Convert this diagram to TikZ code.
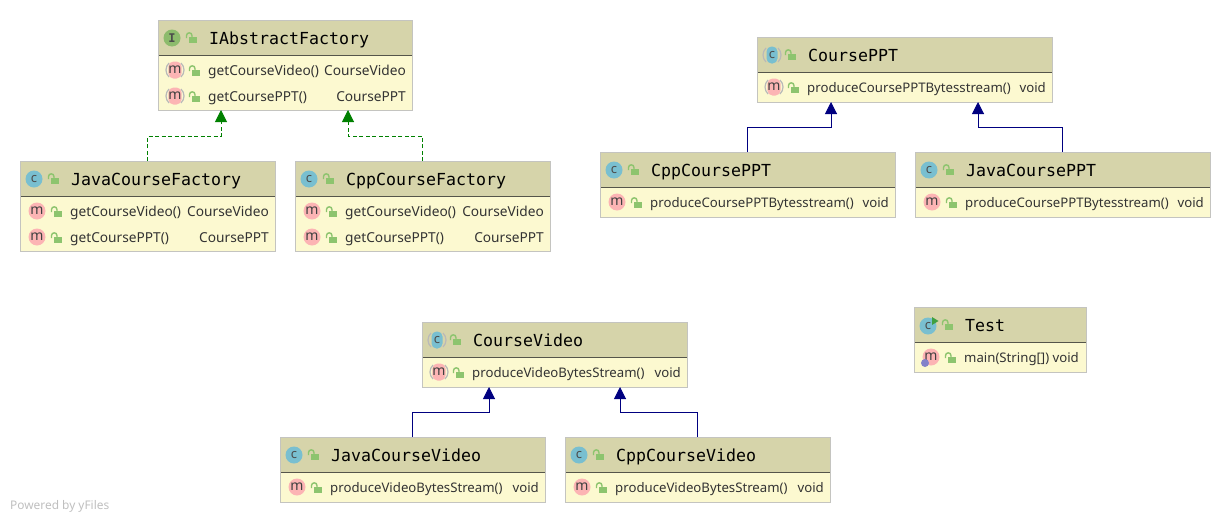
\documentclass[tikz,border=0pt]{standalone}
\usepackage{fontspec}
\setmainfont{Noto Sans}
\setmonofont{DejaVu Sans Mono}
\usetikzlibrary{arrows.meta}
\definecolor{headfill}{HTML}{D6D4AA}
\definecolor{bodyfill}{HTML}{FCF9D0}
\definecolor{edgegray}{HTML}{C4C4C0}
\definecolor{sepline}{HTML}{55554A}
\definecolor{classblue}{HTML}{79BFD0}
\definecolor{methodpink}{HTML}{FCB4B4}
\definecolor{ifacegreen}{HTML}{8CBB6C}
\definecolor{lockgreen}{HTML}{8DC46E}
\definecolor{realizegreen}{HTML}{008000}
\definecolor{extendblue}{HTML}{000080}
\def\rowsize{13.2}
\tikzset{
  x=1pt, y=-1pt,
  classbody/.style={draw=edgegray, line width=1pt, fill=bodyfill, anchor=north west, inner sep=0pt, outer sep=0pt},
  classhead/.style={fill=headfill, anchor=north west, inner sep=0pt, outer sep=0pt, minimum height=35pt},
  classtitle/.style={anchor=base west, inner sep=0pt, font=\ttfamily\fontsize{16.6}{17}\selectfont, text=black},
  rowtext/.style={anchor=base west, inner sep=0pt, font=\fontsize{\rowsize}{15}\selectfont, text=black!80},
  rowtype/.style={anchor=base east, inner sep=0pt, font=\fontsize{\rowsize}{15}\selectfont, text=black!80},
  iconc/.style={circle, fill=classblue, inner sep=0pt, minimum size=17pt, font=\bfseries\fontsize{13}{13}\selectfont, text=black!70},
  iconm/.style={circle, fill=methodpink, inner sep=0pt, minimum size=17pt, font=\fontsize{14}{14}\selectfont, text=black!75},
  iconi/.style={circle, fill=ifacegreen, inner sep=0pt, minimum size=17pt, font=\ttfamily\bfseries\fontsize{12}{12}\selectfont, text=black!70},
  absicon/.style={rectangle, rounded corners=5pt, minimum width=11pt, minimum height=17pt},
  realize/.style={draw=realizegreen, line width=1pt, dash pattern=on 4pt off 2.5pt, -{Triangle[length=12pt,width=12pt,fill=realizegreen,sharp]}},
  extend/.style={draw=extendblue, line width=1pt, -{Triangle[length=12pt,width=12pt,fill=extendblue,sharp]}},
  lock/.pic={
    \fill[lockgreen] (-2,-0.5) rectangle (5.5,5.5);
    \draw[lockgreen, line width=1.4pt] (-4.5,0.5) -- (-4.5,-2) .. controls (-4.5,-5.5) and (1,-5.5) .. (1,-2) -- (1,0.5);
  },
}
% id, x, y, width, height, title
\newcommand{\umlclass}[6]{
  \node[classbody, minimum width=#4pt, minimum height=#5pt] (#1) at (#2,#3) {};
  \node[classhead, minimum width=#4pt] (#1head) at (#2,#3) {};
  \draw[sepline, line width=1pt] (#1head.south west) -- (#1head.south east);
  \draw[edgegray, line width=1pt] (#1.north west) rectangle (#1.south east);
  \pic at ([shift={(33,17.5)}]#1.north west) {lock};
  \node[classtitle] (#1title) at ([shift={(51,24)}]#1.north west) {#6};
}
% id, y offset, icon options, text, type, right gap
\newcommand{\umlrow}[6]{
  \node[iconm, #3] (#1icon#2) at ([shift={(17,#2)}]#1.north west) {m};
  \pic at ([shift={(36,#2+0.5)}]#1.north west) {lock};
  \node[rowtext] (#1name#2) at ([shift={(50,#2+5.5)}]#1.north west) {#4};
  \node[rowtype] (#1type#2) at ([shift={(-#6,#2+5.5)}]#1.north east) {#5};
}
\newcommand{\parenmark}[1]{
  \draw[gray!55, line width=1.2pt] ([shift={(-6,-7)}]#1.center) .. controls ([shift={(-10,-3)}]#1.center) and ([shift={(-10,3)}]#1.center) .. ([shift={(-6,7)}]#1.center);
  \draw[gray!55, line width=1.2pt] ([shift={(6,-7)}]#1.center) .. controls ([shift={(10,-3)}]#1.center) and ([shift={(10,3)}]#1.center) .. ([shift={(6,7)}]#1.center);
}
\begin{document}
\begin{tikzpicture}
  \useasboundingbox (0,0) rectangle (1230,522);

  \umlclass{abstractFactory}{158}{20}{254}{90}{IAbstractFactory}
  \umlclass{javaFactory}{20}{161}{255}{90}{JavaCourseFactory}
  \umlclass{cppFactory}{295}{161}{255}{90}{CppCourseFactory}
  \umlclass{coursePPT}{757}{37}{295}{65}{CoursePPT}
  \umlclass{cppPPT}{600}{152}{295}{65}{CppCoursePPT}
  \umlclass{javaPPT}{915}{152}{295}{65}{JavaCoursePPT}
  \umlclass{courseVideo}{422}{322}{265}{65}{CourseVideo}
  \umlclass{javaVideo}{280}{437}{265}{65}{JavaCourseVideo}
  \umlclass{cppVideo}{565}{437}{265}{65}{CppCourseVideo}
  \umlclass{test}{914}{307}{172}{65}{Test}

  % class icons
  \node[iconi] (abstractFactoryIcon) at ([shift={(14,18)}]abstractFactory.north west) {I};
  \node[iconc] (javaFactoryIcon) at ([shift={(14,18)}]javaFactory.north west) {c};
  \node[iconc] (cppFactoryIcon) at ([shift={(14,18)}]cppFactory.north west) {c};
  \node[iconc, absicon] (coursePPTIcon) at ([shift={(15,18)}]coursePPT.north west) {c};
  \node[iconc] (cppPPTIcon) at ([shift={(14,18)}]cppPPT.north west) {c};
  \node[iconc] (javaPPTIcon) at ([shift={(14,18)}]javaPPT.north west) {c};
  \node[iconc, absicon] (courseVideoIcon) at ([shift={(15,18)}]courseVideo.north west) {c};
  \node[iconc] (javaVideoIcon) at ([shift={(14,18)}]javaVideo.north west) {c};
  \node[iconc] (cppVideoIcon) at ([shift={(14,18)}]cppVideo.north west) {c};
  \node[iconc] (testIcon) at ([shift={(14,19)}]test.north west) {c};
  \parenmark{coursePPTIcon}
  \parenmark{courseVideoIcon}
  \fill[realizegreen!75] ([shift={(18,10)}]test.north west) -- ++(6.5,4) -- ++(-6.5,4) -- cycle;

  % methods
  \umlrow{coursePPT}{50}{absicon}{produceCoursePPTBytesstream()}{void}{6}
  \parenmark{coursePPTicon50}
  \umlrow{cppPPT}{50}{}{produceCoursePPTBytesstream()}{void}{6}
  \umlrow{javaPPT}{50}{}{produceCoursePPTBytesstream()}{void}{6}
  \umlrow{courseVideo}{50}{absicon}{produceVideoBytesStream()}{void}{6}
  \parenmark{courseVideoicon50}
  \umlrow{javaVideo}{50}{}{produceVideoBytesStream()}{void}{6}
  \umlrow{cppVideo}{50}{}{produceVideoBytesStream()}{void}{6}
  \umlrow{test}{50}{}{main(String[])}{void}{7}
  \fill[gray!60!blue!70!white] ([shift={(11,56)}]test.north west) circle (4);
  \def\rowsize{13.7}
  \umlrow{abstractFactory}{50}{absicon}{getCourseVideo()}{CourseVideo}{6}
  \umlrow{abstractFactory}{76}{absicon}{getCoursePPT()}{CoursePPT}{6}
  \parenmark{abstractFactoryicon50}
  \parenmark{abstractFactoryicon76}
  \umlrow{javaFactory}{50}{}{getCourseVideo()}{CourseVideo}{6}
  \umlrow{javaFactory}{76}{}{getCoursePPT()}{CoursePPT}{6}
  \umlrow{cppFactory}{50}{}{getCourseVideo()}{CourseVideo}{6}
  \umlrow{cppFactory}{76}{}{getCoursePPT()}{CoursePPT}{6}

  % attachment points on the parents
  \coordinate (abstractL) at ([xshift=-64pt]abstractFactory.south);
  \coordinate (abstractR) at ([xshift=63pt]abstractFactory.south);
  \coordinate (coursePPTL) at ([xshift=-73.5pt]coursePPT.south);
  \coordinate (coursePPTR) at ([xshift=73.5pt]coursePPT.south);
  \coordinate (courseVideoL) at ([xshift=-65.5pt]courseVideo.south);
  \coordinate (courseVideoR) at ([xshift=65.5pt]courseVideo.south);

  \draw[realize] (javaFactory.north) -- ++(0,-25) -| (abstractL);
  \draw[realize] (cppFactory.north) -- ++(0,-25) -| (abstractR);
  \draw[extend] (cppPPT.north) -- ++(0,-25) -| (coursePPTL);
  \draw[extend] (javaPPT.north) -- ++(0,-25) -| (coursePPTR);
  \draw[extend] (javaVideo.north) -- ++(0,-25) -| (courseVideoL);
  \draw[extend] (cppVideo.north) -- ++(0,-25) -| (courseVideoR);

  \node[anchor=west, inner sep=0pt, font=\fontsize{11.9}{12}\selectfont, text=black!25] (poweredBy) at (10,506) {Powered by yFiles};
\end{tikzpicture}
\end{document}
